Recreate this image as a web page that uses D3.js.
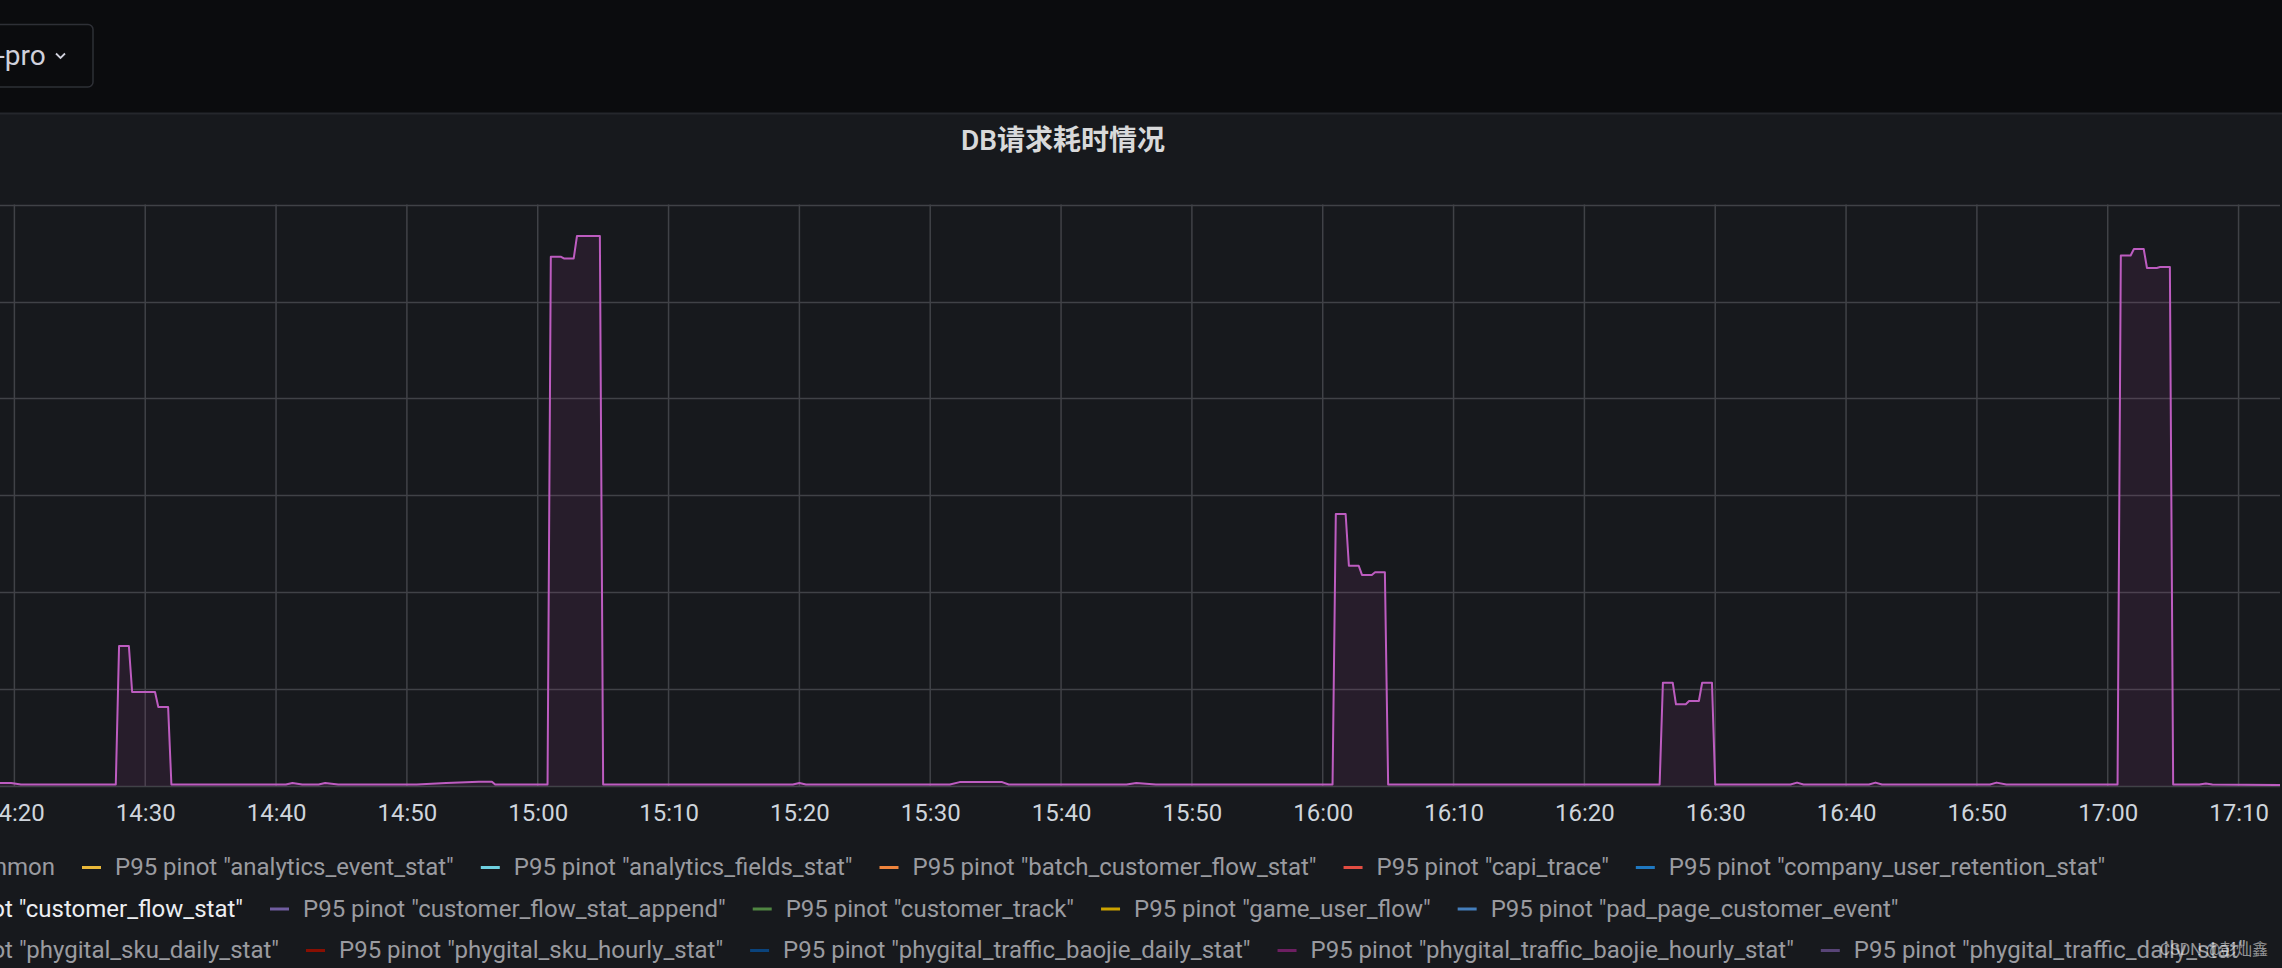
<!DOCTYPE html>
<html>
<head>
<meta charset="utf-8">
<script src="https://cdn.jsdelivr.net/npm/d3@7"></script>
<style>
  html, body { margin: 0; padding: 0; background: #0b0c0e; overflow: hidden; }
  svg { display: block; }
</style>
</head>
<body>
<svg id="chart" width="2282" height="968"></svg>
<script>
// ---------------- DATA ----------------
const chartTitle = "DB请求耗时情况";
const dashboardVar = "-pro";

// P95 pinot "customer_flow_stat" (seconds) — vertices of the visible series
const times = [
  "14:18:45","14:19:45","14:20:30",
  "14:27:45","14:28:00","14:28:45","14:29:00","14:30:45","14:31:00","14:31:45","14:32:00",
  "14:40:45","14:41:15","14:42:00",
  "14:43:15","14:43:45","14:44:45",
  "14:50:45","14:53:00","14:55:30","14:56:30","14:56:45",
  "15:00:45","15:01:00","15:01:45","15:02:00","15:02:45","15:03:00","15:04:45","15:05:00",
  "15:19:30","15:20:00","15:20:30",
  "15:31:30","15:32:15","15:35:30","15:36:00",
  "15:45:00","15:45:45","15:47:15",
  "16:00:45","16:01:00","16:01:45","16:02:00","16:02:45","16:03:00","16:03:45","16:04:00","16:04:45","16:05:00",
  "16:25:45","16:26:00","16:26:45","16:27:00","16:27:45","16:28:00","16:28:45","16:29:00","16:29:45","16:30:00",
  "16:35:45","16:36:15","16:36:45",
  "16:41:45","16:42:15","16:42:45",
  "16:51:00","16:51:30","16:52:15",
  "17:00:45","17:01:00","17:01:45","17:02:00","17:02:45","17:03:00","17:03:45","17:04:00","17:04:45","17:05:00",
  "17:07:00","17:07:30","17:08:00",
  "17:13:10"
];
const values = [
  0.03, 0.03, 0.015,
  0.015, 1.445, 1.445, 0.97, 0.97, 0.815, 0.815, 0.015,
  0.015, 0.03, 0.015,
  0.015, 0.03, 0.015,
  0.015, 0.03, 0.045, 0.045, 0.015,
  0.015, 5.463, 5.463, 5.444, 5.444, 5.676, 5.676, 0.015,
  0.015, 0.03, 0.015,
  0.015, 0.04, 0.04, 0.015,
  0.015, 0.03, 0.015,
  0.015, 2.807, 2.807, 2.273, 2.273, 2.178, 2.178, 2.205, 2.205, 0.015,
  0.015, 1.066, 1.066, 0.843, 0.843, 0.877, 0.877, 1.066, 1.066, 0.015,
  0.015, 0.035, 0.015,
  0.015, 0.035, 0.015,
  0.015, 0.035, 0.015,
  0.015, 5.475, 5.475, 5.542, 5.542, 5.346, 5.346, 5.356, 5.356, 0.015,
  0.015, 0.025, 0.015,
  0.01
];

const timeDomain = ["14:18:54", "17:13:10"];
const yDomain = [0, 6];
const yTicks = [0, 1, 2, 3, 4, 5, 6];

// Legend (Grafana classic palette order)
const seriesNames = [
  'P95 common',
  'P95 pinot "analytics_event_stat"',
  'P95 pinot "analytics_fields_stat"',
  'P95 pinot "batch_customer_flow_stat"',
  'P95 pinot "capi_trace"',
  'P95 pinot "company_user_retention_stat"',
  'P95 pinot "customer_flow_stat"',
  'P95 pinot "customer_flow_stat_append"',
  'P95 pinot "customer_track"',
  'P95 pinot "game_user_flow"',
  'P95 pinot "pad_page_customer_event"',
  'P95 pinot "phygital_sku_daily_stat"',
  'P95 pinot "phygital_sku_hourly_stat"',
  'P95 pinot "phygital_traffic_baojie_daily_stat"',
  'P95 pinot "phygital_traffic_baojie_hourly_stat"',
  'P95 pinot "phygital_traffic_daily_stat"'
];
const seriesColors = [
  "#7EB26D","#EAB839","#6ED0E0","#EF843C","#E24D42","#1F78C1",
  "#BA43A9","#705DA0","#508642","#CCA300","#447EBC",
  "#C15C17","#890F02","#0A437C","#6D1F62","#584477"
];
const legendRows = [[0,1,2,3,4,5],[6,7,8,9,10],[11,12,13,14,15]];
const activeSeries = 6;
const watermark = "CSDN @彭灿鑫";

// ---------------- LAYOUT ----------------
const W = 2282, H = 968;
const headerH = 113;
const plot = { left: 0, right: 2280, top: 204.6, bottom: 786 };
const font = "Roboto, 'Noto Sans CJK SC', sans-serif";
const lineStroke = "#bd5cc0";

const svg = d3.select("#chart");

// backgrounds
svg.append("rect").attr("x", 0).attr("y", 0).attr("width", W).attr("height", headerH).attr("fill", "#0b0c0e");
svg.append("rect").attr("x", 0).attr("y", headerH).attr("width", W).attr("height", H - headerH).attr("fill", "#17191d");
svg.append("line").attr("x1", 0).attr("x2", W).attr("y1", headerH + 0.5).attr("y2", headerH + 0.5)
  .attr("stroke", "#25272c").attr("stroke-width", 2);

// dashboard variable dropdown
svg.append("rect").attr("x", -12).attr("y", 24.5).attr("width", 105).attr("height", 62.5).attr("rx", 5)
  .attr("fill", "none").attr("stroke", "#2e3036").attr("stroke-width", 1.5);
svg.append("text").attr("x", -3).attr("y", 65).attr("font-family", font).attr("font-size", 28)
  .attr("fill", "#d0d1dc").text(dashboardVar);
svg.append("path").attr("d", "M56,53.5 L60.5,58 L65,53.5").attr("fill", "none")
  .attr("stroke", "#d0d1dc").attr("stroke-width", 1.8);

// title
svg.append("text").attr("x", 1063).attr("y", 150).attr("text-anchor", "middle")
  .attr("font-family", font).attr("font-size", 28).attr("font-weight", 600)
  .attr("fill", "#d8d9da").text(chartTitle);

// scales
const parse = d3.timeParse("%H:%M:%S");
const x = d3.scaleTime().domain(timeDomain.map(parse)).range([plot.left, plot.right]);
const y = d3.scaleLinear().domain(yDomain).range([plot.bottom, plot.top]);

// grid
const gridColor = "#404247";
const g = svg.append("g");
g.selectAll("line.h").data(yTicks).join("line").attr("class", "h")
  .attr("x1", plot.left).attr("x2", plot.right)
  .attr("y1", d => Math.round(y(d)) + 0.5).attr("y2", d => Math.round(y(d)) + 0.5)
  .attr("stroke", gridColor).attr("stroke-width", 1.5);
const xTicks = x.ticks(d3.timeMinute.every(10));
g.selectAll("line.v").data(xTicks).join("line").attr("class", "v")
  .attr("x1", d => x(d)).attr("x2", d => x(d))
  .attr("y1", plot.top).attr("y2", plot.bottom)
  .attr("stroke", gridColor).attr("stroke-width", 1.5);

// x axis labels
const fmt = d3.timeFormat("%H:%M");
const xAxis = d3.axisBottom(x).tickValues(xTicks).tickFormat(fmt).tickSize(0).tickPadding(0);
const ax = svg.append("g").attr("transform", `translate(0,${plot.bottom})`).call(xAxis);
ax.select(".domain").remove();
ax.selectAll("text").attr("font-family", font).attr("font-size", 24).attr("fill", "#cfd5dc")
  .attr("dy", 0).attr("y", 35);

// series
const data = times.map((t, i) => ({ t: parse(t), v: values[i] }));
svg.append("clipPath").attr("id", "plotclip").append("rect")
  .attr("x", plot.left).attr("y", plot.top - 5).attr("width", plot.right - plot.left).attr("height", plot.bottom - plot.top + 5);
const area = d3.area().x(d => x(d.t)).y0(y(0)).y1(d => y(d.v));
const line = d3.line().x(d => x(d.t)).y(d => y(d.v));
const sg = svg.append("g").attr("clip-path", "url(#plotclip)");
sg.append("path").datum(data).attr("d", area).attr("fill", seriesColors[activeSeries]).attr("fill-opacity", 0.1);
sg.append("path").datum(data).attr("d", line).attr("fill", "none")
  .attr("stroke", lineStroke).attr("stroke-width", 2).attr("stroke-linejoin", "round");

// legend
const rowBase = [875, 916.5, 958];
const rowFirstEnd = [55, 243, 279];
const itemGap = 27, markerW = 19, markerGap = 14;
const lg = svg.append("g").attr("font-family", font).attr("font-size", 24);
legendRows.forEach((row, ri) => {
  let cursor = null;
  row.forEach((si, k) => {
    const active = si === activeSeries;
    const txtColor = active ? "#eceef2" : "#9a9ba0";
    if (k === 0) {
      lg.append("text").attr("x", rowFirstEnd[ri]).attr("y", rowBase[ri]).attr("text-anchor", "end")
        .attr("fill", txtColor).text(seriesNames[si]);
      cursor = rowFirstEnd[ri];
    } else {
      const mx = cursor + itemGap;
      lg.append("line").attr("x1", mx).attr("x2", mx + markerW)
        .attr("y1", rowBase[ri] - 7.5).attr("y2", rowBase[ri] - 7.5)
        .attr("stroke", seriesColors[si]).attr("stroke-width", 3);
      const t = lg.append("text").attr("x", mx + markerW + markerGap).attr("y", rowBase[ri])
        .attr("fill", txtColor).text(seriesNames[si]);
      cursor = mx + markerW + markerGap + t.node().getComputedTextLength();
    }
  });
});

// watermark
svg.append("text").attr("x", 2268).attr("y", 955).attr("text-anchor", "end")
  .attr("font-family", font).attr("font-size", 16).attr("fill", "rgba(255,255,255,0.55)")
  .text(watermark);
</script>
</body>
</html>
